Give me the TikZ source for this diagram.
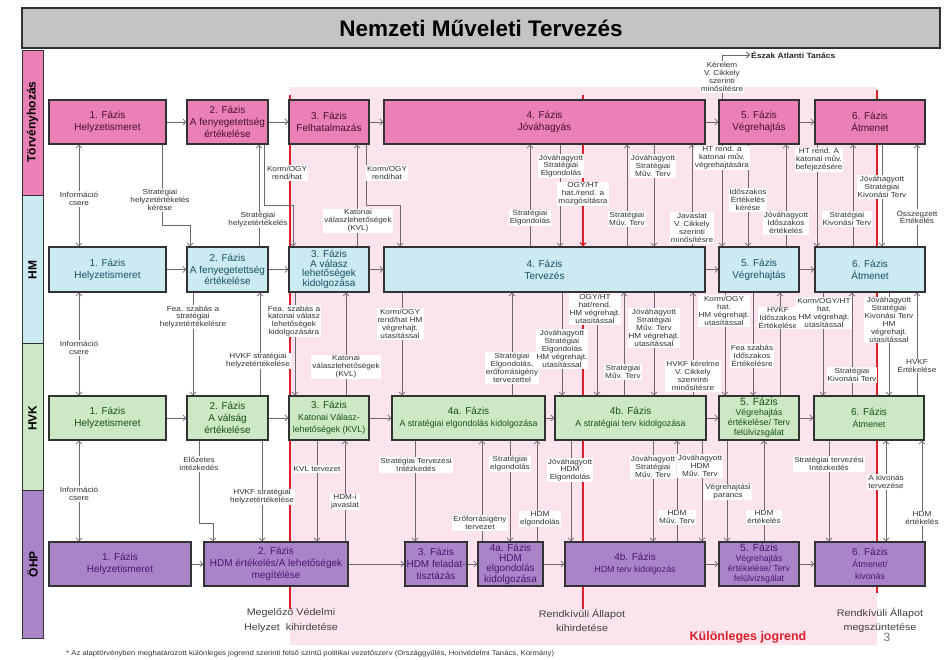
\documentclass[tikz,border=0pt]{standalone}
\usepackage{fontspec}
\setmainfont{Liberation Sans}
\newfontfamily\lblfont[FakeStretch=1.12]{Liberation Sans}
\usetikzlibrary{arrows.meta}
\definecolor{tpink}{RGB}{235,128,182}
\definecolor{tptext}{RGB}{70,15,45}
\definecolor{hblue}{RGB}{204,234,242}
\definecolor{htext}{RGB}{25,80,100}
\definecolor{vgreen}{RGB}{204,232,196}
\definecolor{vtext}{RGB}{25,80,25}
\definecolor{opurp}{RGB}{170,132,200}
\definecolor{otext}{RGB}{75,20,115}
\definecolor{pinkbg}{RGB}{252,228,238}
\definecolor{redcol}{RGB}{222,30,40}
\definecolor{arrcol}{RGB}{112,102,112}
\definecolor{lbltext}{RGB}{50,50,50}
\definecolor{titlegray}{RGB}{196,196,196}
\definecolor{bordcol}{RGB}{50,50,50}
\newcommand\bxf{\fontsize{10}{11.8}\selectfont}
\newcommand\bsub{\fontsize{8.8}{10}\selectfont}
\newcommand\myvline[4][arr]{\draw[#1] (#2 -| #4,0) -- (#3 -| #4,0);}
\tikzset{
 box/.style={draw=bordcol, line width=1.1pt, inner sep=0pt, align=center, font=\bxf},
 tb/.style={box, fill=tpink, text=tptext},
 hb/.style={box, fill=hblue, text=htext},
 vb/.style={box, fill=vgreen, text=vtext},
 ob/.style={box, fill=opurp, text=otext},
 lbl/.style={fill=white, inner sep=1pt, align=center, text=lbltext, font=\lblfont\fontsize{7.3}{7.9}\selectfont},
 arr/.style={draw=arrcol, line width=0.8pt, -{Straight Barb[length=3pt,width=6pt]}},
 barr/.style={draw=arrcol, line width=0.8pt, {Straight Barb[length=3pt,width=6pt]}-{Straight Barb[length=3pt,width=6pt]}},
 redl/.style={draw=redcol, line width=1.3pt},
 evt/.style={align=center, text=black!75, font=\lblfont\fontsize{9.6}{14.5}\selectfont, inner sep=0pt},
 lane/.style={rotate=90, font=\bfseries\fontsize{12}{12}\selectfont, text=black},
 lanebox/.style={draw=bordcol, line width=0.8pt},
}
\begin{document}
\begin{tikzpicture}[x=1pt,y=-1pt]
\useasboundingbox (0,0) rectangle (949,660);
\fill[white] (0,0) rectangle (949,660);
% title
\draw[fill=titlegray, draw=bordcol, line width=1.4pt] (22,8) rectangle (940,48);
\node[font=\bfseries\fontsize{22.5}{24}\selectfont] (title) at (481,28.5) {Nemzeti Műveleti Tervezés};
% lanes
\draw[lanebox, fill=tpink] (22,50) rectangle (43,195);
\draw[lanebox, fill=hblue] (22,195) rectangle (43,343);
\draw[lanebox, fill=vgreen] (22,343) rectangle (43,490);
\draw[lanebox, fill=opurp] (22,490) rectangle (43,638);
\node[lane] (LT) at (32.5,122) {Törvényhozás};
\node[lane] (LH) at (32.5,270) {HM};
\node[lane] (LV) at (32.5,418) {HVK};
\node[lane] (LO) at (32.5,564) {ÖHP};
% special legal order background
\fill[pinkbg] (290,87) rectangle (877,645);
% event labels and red lines
\node[evt] (ev1) at (291,620.5) {Megelőző Védelmi\\Helyzet\ \ kihirdetése};
\node[evt] (ev2) at (582,620.5) {Rendkívüli Állapot\\kihirdetése};
\node[evt] (ev3) at (880,620.5) {Rendkívüli Állapot\\megszüntetése};
\coordinate (r1t) at (290,95);
\coordinate (r2t) at (583,95);
\coordinate (r3t) at (877,90);
\draw[redl] (r1t) -- (r1t |- ev1.north);
\draw[redl] (r2t) -- (r2t |- ev2.north);
\draw[redl] (r3t) -- (r3t |- 0,593);
\node[font=\bfseries\fontsize{12.5}{13}\selectfont, text=redcol] (kj) at (748,637) {Különleges jogrend};
\node[font=\fontsize{12}{13}\selectfont, text=black!55] (pg) at (887,637) {3};
\node[anchor=west, font=\lblfont\fontsize{6.9}{7}\selectfont, text=black!80, inner sep=0pt] (fn) at (66,654) {* Az alaptörvényben meghatározott különleges jogrend szerinti felső szintű politikai vezetőszerv (Országgyűlés, Honvédelmi Tanács, Kormány)};
% ---- Törvényhozás row
\node[tb, minimum width=117pt, minimum height=44pt] (T1) at (107.5,122) {1. Fázis\\Helyzetismeret};
\node[tb, minimum width=81pt, minimum height=44pt] (T2) at (227.5,122) {2. Fázis\\A fenyegetettség\\értékelése};
\node[tb, minimum width=80pt, minimum height=44pt] (T3) at (329,122) {3. Fázis\\Felhatalmazás};
\node[tb, minimum width=321pt, minimum height=44pt] (T4) at (544.5,122) {4. Fázis\\Jóváhagyás};
\node[tb, minimum width=80pt, minimum height=44pt] (T5) at (759,122) {5. Fázis\\Végrehajtás};
\node[tb, minimum width=110pt, minimum height=44pt] (T6) at (870,122) {6. Fázis\\Átmenet};
% ---- HM row
\node[hb, minimum width=117pt, minimum height=45pt] (H1) at (107.5,269.5) {1. Fázis\\Helyzetismeret};
\node[hb, minimum width=81pt, minimum height=45pt] (H2) at (227.5,269.5) {2. Fázis\\A fenyegetettség\\értékelése};
\node[hb, minimum width=80pt, minimum height=45pt, font=\fontsize{10}{9.6}\selectfont] (H3) at (329,269.5) {3. Fázis\\A válasz\\lehetőségek\\kidolgozása};
\node[hb, minimum width=321pt, minimum height=45pt] (H4) at (544.5,269.5) {4. Fázis\\Tervezés};
\node[hb, minimum width=80pt, minimum height=45pt] (H5) at (759,269.5) {5. Fázis\\Végrehajtás};
\node[hb, minimum width=110pt, minimum height=45pt] (H6) at (870,269.5) {6. Fázis\\Átmenet};
% ---- HVK row
\node[vb, minimum width=117pt, minimum height=44pt] (V1) at (107.5,418) {1. Fázis\\Helyzetismeret};
\node[vb, minimum width=81pt, minimum height=44pt] (V2) at (227.5,418) {2. Fázis\\A válság\\értékelése};
\node[vb, minimum width=80pt, minimum height=44pt] (V3) at (329,418) {3. Fázis\\{\bsub Katonai Válasz-}\\{\bsub lehetőségek (KVL)}};
\node[vb, minimum width=153pt, minimum height=44pt] (V4a) at (468.5,418) {4a. Fázis\\{\bsub A stratégiai elgondolás kidolgozása}};
\node[vb, minimum width=151pt, minimum height=44pt] (V4b) at (630.5,418) {4b. Fázis\\{\bsub A stratégiai terv kidolgozása}};
\node[vb, minimum width=80pt, minimum height=44pt, font=\fontsize{10.5}{10}\selectfont] (V5) at (759,418) {5. Fázis\\{\bsub Végrehajtás}\\{\bsub értékelése/ Terv}\\{\bsub felülvizsgálat}};
\node[vb, minimum width=110pt, minimum height=44pt] (V6) at (869,418) {6. Fázis\\{\bsub Átmenet}};
% ---- ÖHP row
\node[ob, minimum width=142pt, minimum height=44pt] (O1) at (120,564) {1. Fázis\\Helyzetismeret};
\node[ob, minimum width=144pt, minimum height=44pt] (O2) at (276,564) {2. Fázis\\HDM értékelés/A lehetőségek\\megítélése};
\node[ob, minimum width=62pt, minimum height=44pt] (O3) at (436,564) {3. Fázis\\HDM feladat-\\tisztázás};
\node[ob, minimum width=65pt, minimum height=44pt, font=\fontsize{10}{10.4}\selectfont] (O4a) at (510.5,564) {4a. Fázis\\HDM\\elgondolás\\kidolgozása};
\node[ob, minimum width=140pt, minimum height=44pt] (O4b) at (635,564) {4b. Fázis\\{\bsub HDM terv kidolgozás}};
\node[ob, minimum width=80pt, minimum height=44pt, font=\fontsize{10.5}{10}\selectfont] (O5) at (759,564) {5. Fázis\\{\bsub Végrehajtás}\\{\bsub értékelése/ Terv}\\{\bsub felülvizsgálat}};
\node[ob, minimum width=110pt, minimum height=44pt] (O6) at (870,564) {6. Fázis\\{\bsub Átmenet/}\\{\bsub kivonás}};
% ---- horizontal flow
\foreach \a/\b in {T1/T2,T2/T3,T3/T4,T4/T5,T5/T6,H1/H2,H2/H3,H3/H4,H4/H5,H5/H6,V1/V2,V2/V3,V3/V4a,V4a/V4b,V4b/V5,V5/V6,O1/O2,O2/O3,O3/O4a,O4a/O4b,O4b/O5,O5/O6}
  \draw[arr] (\a.east) -- (\b.west);
% ---- Törvényhozás <-> HM
\myvline[barr]{T1.south}{H1.north}{79}
\draw[arr] (T1.south -| 162,0) |- (190,225) -- (H2.north -| 190,0);
\myvline{H2.north}{T2.south}{259}
\draw[arr] (T2.south -| 264,0) |- (293,205) -- (H3.north -| 293,0);
\myvline{H3.north}{T3.south}{357}
\draw[arr] (T3.south -| 366,0) |- (400,205) -- (H4.north -| 400,0);
\myvline{H4.north}{T4.south}{530}
\myvline{T4.south}{H4.north}{560}
\draw[arr, draw=redcol, line width=1.3pt] (T4.south -| 583,0) -- (H4.north -| 583,0);
\myvline{H4.north}{T4.south}{627}
\myvline{T4.south}{H4.north}{654}
\myvline{H4.north}{T4.south}{692}
\myvline{T5.south}{H5.north}{722}
\myvline{T5.south}{H5.north}{748}
\myvline{H5.north}{T5.south}{786}
\myvline{T6.south}{H6.north}{817}
\myvline{H6.north}{T6.south}{853}
\myvline{T6.south}{H6.north}{882}
\myvline{H6.north}{T6.south}{917}
\node[anchor=west, inner sep=1pt, font=\bfseries\lblfont\fontsize{7.6}{8}\selectfont, text=black!85] (EAT) at (750,55) {Észak Atlanti Tanács};
\draw[arr] (T5.north -| 722,0) |- (EAT.west);
% ---- HM <-> HVK
\myvline[barr]{H1.south}{V1.north}{79}
\myvline{H2.south}{V2.north}{193}
\myvline{V2.north}{H2.south}{260}
\myvline{H3.south}{V3.north}{295}
\myvline{V3.north}{H3.south}{346}
\myvline{H4.south}{V4a.north}{402}
\myvline{V4a.north}{H4.south}{512}
\myvline{H4.south}{V4b.north}{562}
\myvline{H4.south}{V4b.north}{597}
\myvline{V4b.north}{H4.south}{624}
\myvline{H4.south}{V4b.north}{654}
\myvline{V4b.north}{H4.south}{693}
\myvline{H5.south}{V5.north}{725}
\myvline{H5.south}{V5.north}{753}
\myvline{V5.north}{H5.south}{780}
\myvline{H6.south}{V6.north}{823}
\myvline{V6.north}{H6.south}{852}
\myvline{H6.south}{V6.north}{889}
\myvline{V6.north}{H6.south}{917}
% ---- HVK <-> ÖHP
\myvline[barr]{V1.south}{O1.north}{79}
\draw[arr] (V2.south -| 199,0) |- (213,523) -- (O2.north -| 213,0);
\myvline{V2.south}{O2.north}{262}
\myvline{V3.south}{O2.north}{317}
\myvline{O2.north}{V3.south}{345}
\myvline{V4a.south}{O3.north}{415}
\myvline{O4a.north}{V4a.south}{482}
\myvline{V4a.south}{O4a.north}{510}
\myvline{O4a.north}{V4a.south}{537}
\myvline{V4b.south}{O4b.north}{571}
\myvline{V4b.south}{O4b.north}{653}
\myvline{O4b.north}{V4b.south}{677}
\myvline{V4b.south}{O4b.north}{702}
\myvline{V5.south}{O5.north}{727}
\myvline{O5.north}{V5.south}{764}
\myvline{V6.south}{O6.north}{829}
\myvline[barr]{V6.south}{O6.north}{886}
\myvline{O6.north}{V6.south}{922}
% ---- labels T <-> HM
\node[lbl] (a1) at (79,199) {Információ\\csere};
\node[lbl] (a2) at (160,200) {Stratégiai\\helyzetértékelés\\kérése};
\node[lbl] (a3) at (258,220) {Stratégiai\\helyzetértékelés};
\node[lbl] (a4) at (287,173) {Korm/OGY\\rend/hat};
\node[lbl] (a5) at (358,221) {Katonai\\válaszlehetőségek\\(KVL)};
\node[lbl] (a6) at (387,173) {Korm/OGY\\rend/hat};
\node[lbl] (a7) at (530,218) {Stratégiai\\Elgondolás};
\node[lbl] (a8) at (561,166) {Jóváhagyott\\Stratégiai\\Elgondolás};
\node[lbl] (a9) at (583,194) {OGY/HT\\hat./rend. a\\mozgósításra};
\node[lbl] (a10) at (627,219) {Stratégiai\\Műv. Terv};
\node[lbl] (a11) at (653,166) {Jóváhagyott\\Stratégiai\\Műv. Terv};
\node[lbl] (a12) at (692,228) {Javaslat\\V. Cikkely\\szerinti\\minősítésre};
\node[lbl] (a13) at (722,158) {HT rend. a\\katonai műv.\\végrehajtására};
\node[lbl] (a14) at (748,200) {Időszakos\\Értékelés\\kérése};
\node[lbl] (a15) at (786,223) {Jóváhagyott\\Időszakos\\értékelés};
\node[lbl] (a16) at (819,160) {HT rend. A\\katonai műv.\\befejezésére};
\node[lbl] (a17) at (847,219) {Stratégiai\\Kivonási Terv};
\node[lbl] (a18) at (882,187) {Jóváhagyott\\Stratégiai\\Kivonási Terv};
\node[lbl] (a19) at (917,217) {Összegzett\\Értékelés};
\node[lbl] (a20) at (722,77) {Kérelem\\V. Cikkely\\szerinti\\minősítésre};
% ---- labels HM <-> HVK
\node[lbl] (b1) at (79,348) {Információ\\csere};
\node[lbl] (b2) at (193,317) {Fea. szabás a\\stratégiai\\helyzetértékelésre};
\node[lbl] (b3) at (258,361) {HVKF stratégiai\\helyzetértékelése};
\node[lbl] (b4) at (294,321) {Fea. szabás a\\katonai válasz\\lehetőségek\\kidolgozására};
\node[lbl] (b5) at (346,367) {Katonai\\válaszlehetőségek\\(KVL)};
\node[lbl] (b6) at (400,324) {Korm/OGY\\rend/hat HM\\végrehajt.\\utasítással};
\node[lbl] (b7) at (512,368) {Stratégiai\\Elgondolás,\\erőforrásigény\\tervezettel};
\node[lbl] (b8) at (562,349) {Jóváhagyott\\Stratégiai\\Elgondolás\\HM végrehajt.\\utasítással};
\node[lbl] (b9) at (595,309) {OGY/HT\\hat/rend.\\HM végrehajt.\\utasítással};
\node[lbl] (b10) at (623,372) {Stratégiai\\Műv. Terv};
\node[lbl] (b11) at (654,328) {Jóváhagyott\\Stratégiai\\Műv. Terv\\HM végrehajt.\\utasítással};
\node[lbl] (b12) at (693,376) {HVKF kérelme\\V. Cikkely\\szenrinti\\minősítésre};
\node[lbl] (b13) at (724,311) {Korm/OGY\\hat.\\HM végrehajt.\\utasítással};
\node[lbl] (b14) at (752,356) {Fea szabás\\Időszakos\\Értékelésre};
\node[lbl] (b15) at (778,318) {HVKF\\Időszakos\\Értékelése};
\node[lbl] (b16) at (824,313) {Korm/OGY/HT\\hat.\\HM végrehajt.\\utasítással};
\node[lbl] (b17) at (852,375) {Stratégiai\\Kivonási Terv};
\node[lbl] (b18) at (889,320) {Jóváhagyott\\Stratégiai\\Kivonási Terv\\HM\\végrehajt.\\utasítással};
\node[lbl] (b19) at (917,366) {HVKF\\Értékelése};
% ---- labels HVK <-> ÖHP
\node[lbl] (c1) at (79,494) {Információ\\csere};
\node[lbl] (c2) at (199,464) {Előzetes\\intézkedés};
\node[lbl] (c3) at (262,497) {HVKF stratégiai\\helyzetértékelése};
\node[lbl] (c4) at (317,469) {KVL tervezet};
\node[lbl] (c5) at (345,502) {HDM-i\\javaslat};
\node[lbl] (c6) at (416,465) {Stratégiai Tervezési\\Intézkedés};
\node[lbl] (c7) at (480,523) {Erőforrásigény\\tervezet};
\node[lbl] (c8) at (510,464) {Stratégiai\\elgondolás};
\node[lbl] (c9) at (540,519) {HDM\\elgondolás};
\node[lbl] (c10) at (570,470) {Jóváhagyott\\HDM\\Elgondolás};
\node[lbl] (c11) at (653,467) {Jóváhagyott\\Stratégiai\\Műv. Terv};
\node[lbl] (c12) at (677,517) {HDM\\Műv. Terv};
\node[lbl] (c13) at (700,466) {Jóváhagyott\\HDM\\Műv. Terv};
\node[lbl] (c14) at (728,492) {Végrehajtási\\parancs};
\node[lbl] (c15) at (764,517) {HDM\\értékelés};
\node[lbl] (c16) at (829,464) {Stratégiai tervezési\\Intézkedés};
\node[lbl] (c17) at (886,482) {A kivonás\\tervezése};
\node[lbl] (c18) at (922,518) {HDM\\értékelés};
\end{tikzpicture}
\end{document}
